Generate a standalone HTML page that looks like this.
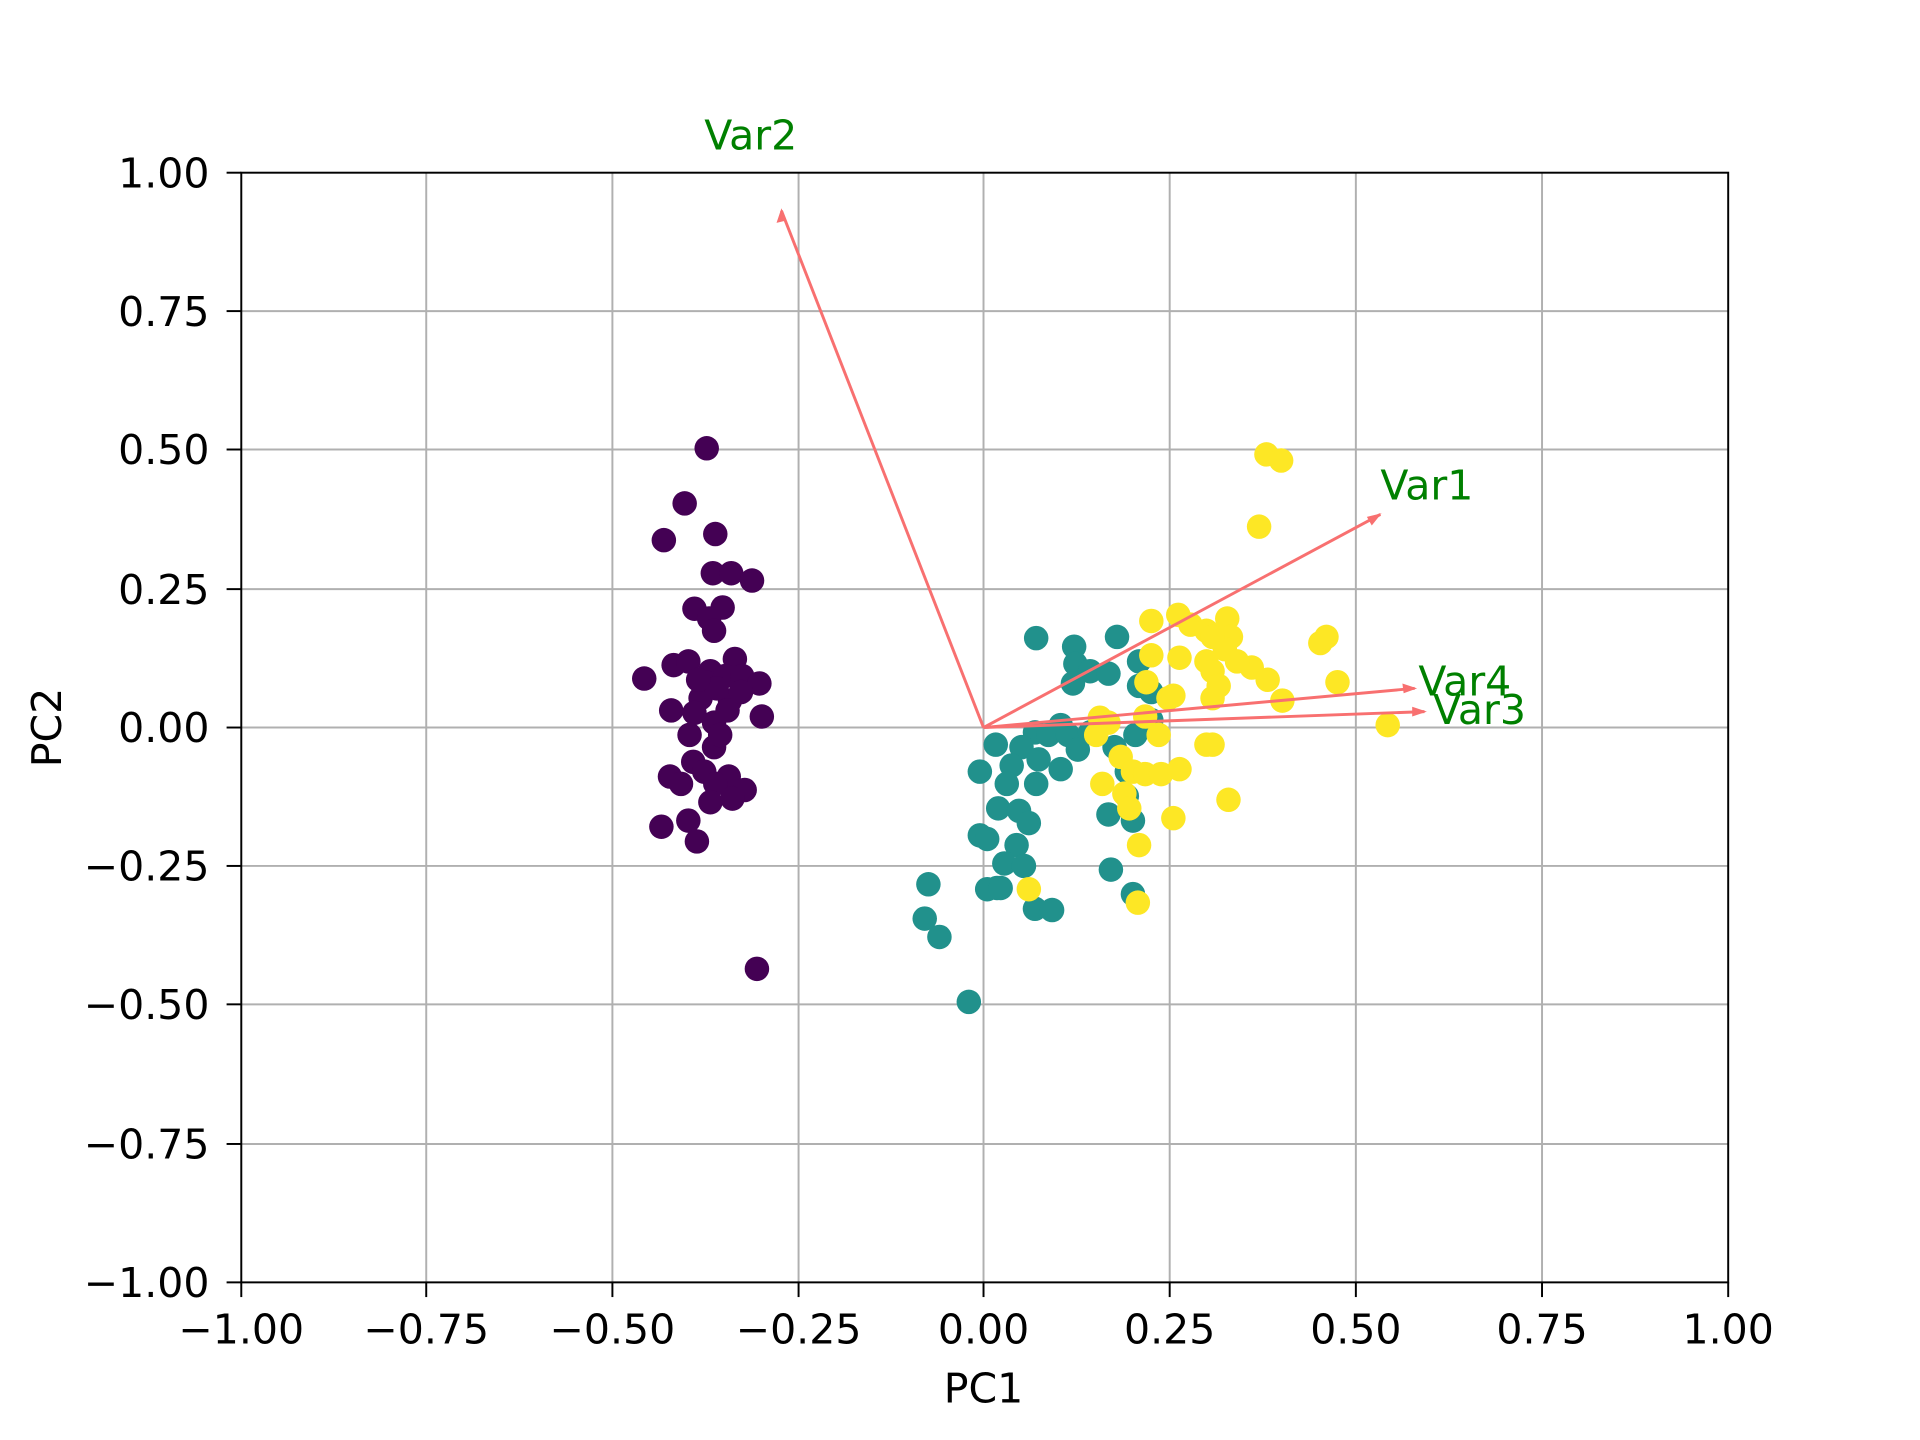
<!DOCTYPE html>
<html><head><meta charset="utf-8"><style>html,body{margin:0;padding:0;background:#fff}svg{display:block}</style></head>
<body>
<svg width="1920" height="1440" viewBox="0 0 1567.6 1175.7" xmlns="http://www.w3.org/2000/svg" font-family="DejaVu Sans, Liberation Sans, sans-serif">
<rect width="1567.6" height="1175.7" fill="#fff"/>
<g stroke="#b0b0b0" stroke-width="1.6">
<line x1="348" y1="141" x2="348" y2="1047"/><line x1="500" y1="141" x2="500" y2="1047"/><line x1="652" y1="141" x2="652" y2="1047"/><line x1="803" y1="141" x2="803" y2="1047"/><line x1="955" y1="141" x2="955" y2="1047"/><line x1="1107" y1="141" x2="1107" y2="1047"/><line x1="1259" y1="141" x2="1259" y2="1047"/>
<line x1="197" y1="254" x2="1411" y2="254"/><line x1="197" y1="367" x2="1411" y2="367"/><line x1="197" y1="481" x2="1411" y2="481"/><line x1="197" y1="594" x2="1411" y2="594"/><line x1="197" y1="707" x2="1411" y2="707"/><line x1="197" y1="820" x2="1411" y2="820"/><line x1="197" y1="934" x2="1411" y2="934"/>
</g>
<g fill="#440154">
<circle cx="577" cy="366" r="10"/><circle cx="559" cy="411" r="10"/><circle cx="584" cy="436" r="10"/><circle cx="542" cy="441" r="10"/><circle cx="582" cy="468" r="10"/><circle cx="597" cy="468" r="10"/><circle cx="614" cy="474" r="10"/><circle cx="567" cy="497" r="10"/><circle cx="590" cy="496" r="10"/><circle cx="579" cy="505" r="10"/><circle cx="583" cy="515" r="10"/><circle cx="526" cy="554" r="10"/><circle cx="550" cy="543" r="10"/><circle cx="562" cy="540" r="10"/><circle cx="600" cy="538" r="10"/><circle cx="580" cy="548" r="10"/><circle cx="576" cy="557" r="10"/><circle cx="592" cy="552" r="10"/><circle cx="606" cy="552" r="10"/><circle cx="620" cy="558" r="10"/><circle cx="572" cy="570" r="10"/><circle cx="596" cy="572" r="10"/><circle cx="585" cy="562" r="10"/><circle cx="567" cy="582" r="10"/><circle cx="622" cy="585" r="10"/><circle cx="548" cy="580" r="10"/><circle cx="583" cy="590" r="10"/><circle cx="594" cy="580" r="10"/><circle cx="583" cy="610" r="10"/><circle cx="566" cy="622" r="10"/><circle cx="547" cy="634" r="10"/><circle cx="575" cy="630" r="10"/><circle cx="595" cy="634" r="10"/><circle cx="608" cy="645" r="10"/><circle cx="584" cy="640" r="10"/><circle cx="556" cy="640" r="10"/><circle cx="580" cy="655" r="10"/><circle cx="598" cy="652" r="10"/><circle cx="562" cy="670" r="10"/><circle cx="540" cy="675" r="10"/><circle cx="569" cy="687" r="10"/><circle cx="618" cy="791" r="10"/><circle cx="563" cy="600" r="10"/><circle cx="588" cy="600" r="10"/><circle cx="605" cy="565" r="10"/><circle cx="570" cy="555" r="10"/>
</g>
<g fill="#21918c">
<circle cx="846" cy="521" r="10"/><circle cx="877" cy="528" r="10"/><circle cx="912" cy="520" r="10"/><circle cx="930" cy="540" r="10"/><circle cx="878" cy="542" r="10"/><circle cx="890" cy="548" r="10"/><circle cx="876" cy="558" r="10"/><circle cx="905" cy="550" r="10"/><circle cx="940" cy="565" r="10"/><circle cx="866" cy="592" r="10"/><circle cx="845" cy="598" r="10"/><circle cx="856" cy="600" r="10"/><circle cx="872" cy="600" r="10"/><circle cx="890" cy="598" r="10"/><circle cx="910" cy="610" r="10"/><circle cx="927" cy="600" r="10"/><circle cx="940" cy="588" r="10"/><circle cx="920" cy="630" r="10"/><circle cx="866" cy="628" r="10"/><circle cx="880" cy="612" r="10"/><circle cx="813" cy="608" r="10"/><circle cx="834" cy="610" r="10"/><circle cx="848" cy="620" r="10"/><circle cx="826" cy="625" r="10"/><circle cx="800" cy="630" r="10"/><circle cx="822" cy="640" r="10"/><circle cx="846" cy="640" r="10"/><circle cx="815" cy="660" r="10"/><circle cx="832" cy="662" r="10"/><circle cx="840" cy="672" r="10"/><circle cx="830" cy="690" r="10"/><circle cx="800" cy="682" r="10"/><circle cx="806" cy="685" r="10"/><circle cx="820" cy="705" r="10"/><circle cx="836" cy="707" r="10"/><circle cx="814" cy="725" r="10"/><circle cx="806" cy="726" r="10"/><circle cx="817" cy="725" r="10"/><circle cx="758" cy="722" r="10"/><circle cx="755" cy="750" r="10"/><circle cx="767" cy="765" r="10"/><circle cx="845" cy="742" r="10"/><circle cx="859" cy="743" r="10"/><circle cx="907" cy="710" r="10"/><circle cx="925" cy="730" r="10"/><circle cx="791" cy="818" r="10"/><circle cx="905" cy="665" r="10"/><circle cx="920" cy="650" r="10"/><circle cx="925" cy="670" r="10"/><circle cx="930" cy="560" r="10"/>
</g>
<g fill="#fde725">
<circle cx="1034" cy="371" r="10"/><circle cx="1046" cy="376" r="10"/><circle cx="1028" cy="430" r="10"/><circle cx="940" cy="507" r="10"/><circle cx="962" cy="502" r="10"/><circle cx="972" cy="510" r="10"/><circle cx="1002" cy="505" r="10"/><circle cx="985" cy="515" r="10"/><circle cx="1005" cy="520" r="10"/><circle cx="985" cy="540" r="10"/><circle cx="1000" cy="530" r="10"/><circle cx="940" cy="535" r="10"/><circle cx="963" cy="537" r="10"/><circle cx="1078" cy="525" r="10"/><circle cx="1083" cy="520" r="10"/><circle cx="1022" cy="545" r="10"/><circle cx="1035" cy="555" r="10"/><circle cx="1092" cy="557" r="10"/><circle cx="1047" cy="572" r="10"/><circle cx="990" cy="548" r="10"/><circle cx="995" cy="560" r="10"/><circle cx="990" cy="570" r="10"/><circle cx="936" cy="557" r="10"/><circle cx="954" cy="570" r="10"/><circle cx="935" cy="585" r="10"/><circle cx="905" cy="590" r="10"/><circle cx="898" cy="586" r="10"/><circle cx="946" cy="600" r="10"/><circle cx="985" cy="608" r="10"/><circle cx="990" cy="608" r="10"/><circle cx="915" cy="618" r="10"/><circle cx="925" cy="630" r="10"/><circle cx="935" cy="632" r="10"/><circle cx="948" cy="632" r="10"/><circle cx="963" cy="628" r="10"/><circle cx="900" cy="640" r="10"/><circle cx="918" cy="648" r="10"/><circle cx="922" cy="660" r="10"/><circle cx="930" cy="690" r="10"/><circle cx="958" cy="668" r="10"/><circle cx="1003" cy="653" r="10"/><circle cx="840" cy="726" r="10"/><circle cx="929" cy="737" r="10"/><circle cx="1133" cy="592" r="10"/><circle cx="990" cy="520" r="10"/><circle cx="1010" cy="540" r="10"/><circle cx="895" cy="600" r="10"/><circle cx="958" cy="568" r="10"/>
</g>
<g stroke="#f87070" stroke-width="2.4" fill="#f87070">
<line x1="803" y1="594" x2="638" y2="172"/><polygon points="638,170 634,182 642,180" stroke="none"/>
<line x1="803" y1="594" x2="1127" y2="420"/><polygon points="1128,419 1116,422 1120,429" stroke="none"/>
<line x1="803" y1="594" x2="1155" y2="562"/><polygon points="1157,562 1145,558 1146,566" stroke="none"/>
<line x1="803" y1="594" x2="1163" y2="581"/><polygon points="1165,581 1153,577 1153,585" stroke="none"/>
</g>
<g fill="#008000" font-size="33.5">
<text x="575" y="122">Var2</text><text x="1127" y="408">Var1</text><text x="1158" y="568">Var4</text><text x="1170" y="591">Var3</text>
</g>
<rect x="197" y="141" width="1214" height="906" fill="none" stroke="#000" stroke-width="1.6"/>
<g stroke="#000" stroke-width="1.6">
<line x1="197" y1="1047" x2="197" y2="1059"/><line x1="348" y1="1047" x2="348" y2="1059"/><line x1="500" y1="1047" x2="500" y2="1059"/><line x1="652" y1="1047" x2="652" y2="1059"/><line x1="803" y1="1047" x2="803" y2="1059"/><line x1="955" y1="1047" x2="955" y2="1059"/><line x1="1107" y1="1047" x2="1107" y2="1059"/><line x1="1259" y1="1047" x2="1259" y2="1059"/><line x1="1411" y1="1047" x2="1411" y2="1059"/>
<line x1="185" y1="141" x2="197" y2="141"/><line x1="185" y1="254" x2="197" y2="254"/><line x1="185" y1="367" x2="197" y2="367"/><line x1="185" y1="481" x2="197" y2="481"/><line x1="185" y1="594" x2="197" y2="594"/><line x1="185" y1="707" x2="197" y2="707"/><line x1="185" y1="820" x2="197" y2="820"/><line x1="185" y1="934" x2="197" y2="934"/><line x1="185" y1="1047" x2="197" y2="1047"/>
</g>
<g font-size="33.5" fill="#000" text-anchor="middle">
<text x="197" y="1097">−1.00</text><text x="348" y="1097">−0.75</text><text x="500" y="1097">−0.50</text><text x="652" y="1097">−0.25</text><text x="803" y="1097">0.00</text><text x="955" y="1097">0.25</text><text x="1107" y="1097">0.50</text><text x="1259" y="1097">0.75</text><text x="1411" y="1097">1.00</text>
<text x="803" y="1145">PC1</text>
<text transform="translate(50,594) rotate(-90)" y="0">PC2</text>
</g>
<g font-size="33.5" fill="#000" text-anchor="end">
<text x="171" y="153">1.00</text><text x="171" y="266">0.75</text><text x="171" y="379">0.50</text><text x="171" y="493">0.25</text><text x="171" y="606">0.00</text><text x="171" y="719">−0.25</text><text x="171" y="832">−0.50</text><text x="171" y="946">−0.75</text><text x="171" y="1059">−1.00</text>
</g>
</svg>
</body></html>
